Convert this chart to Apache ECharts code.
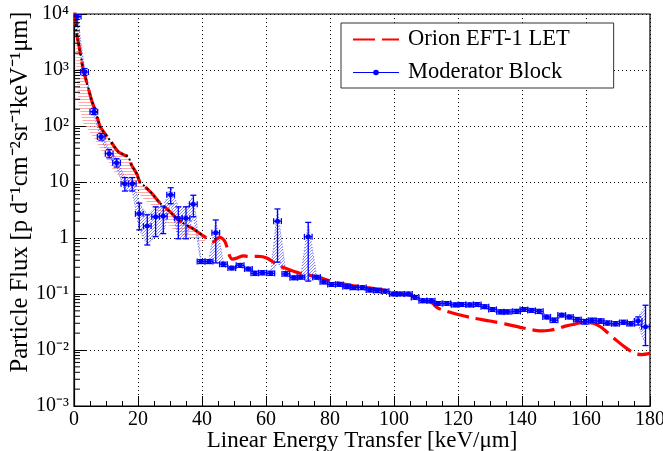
<!DOCTYPE html>
<html>
<head>
<meta charset="utf-8">
<script src="https://cdn.jsdelivr.net/npm/echarts@6/dist/echarts.min.js"></script>
<style>
  html, body { margin: 0; padding: 0; background: #fff; }
  #chart { width: 663px; height: 451px; }
</style>
</head>
<body>
<div id="chart"></div>
<script>
// Orion EFT-1 LET spectrum (red dashed)
const redX = [0, 0.4, 0.8, 1.5, 2.2, 2.9, 4, 5.5, 6.8, 8.1, 9.5, 11.2, 13.8, 15.9, 17, 18, 19.6, 20.6, 21.7, 24.3, 26.9, 30, 32.6, 35.2, 37.8, 40.4,
  42, 43.5, 44.6, 45.6, 47.2, 48.5, 49.5, 51, 52.9, 54.5, 57.6, 60.2, 63.3, 65.9, 70.6, 75.8, 81, 86.2, 91.5, 96.7, 101.3, 104.5, 106.6, 109,
  112, 113.5, 116, 120, 125, 130, 135, 139.4, 143, 145.6, 148.7, 151, 153.9, 156.5, 159.2, 162.3, 164.5, 166.5, 169.6, 172.7, 175.3, 177.5, 180];
const redY = [15000, 9000, 4600, 2800, 1700, 1000, 600, 290, 180, 100, 75, 56, 35, 30, 28, 20, 14, 10, 8.8, 6.3, 4.2, 2.95, 2.1, 1.7, 1.39, 1.09,
  0.95, 0.86, 0.95, 1.03, 0.86, 0.5, 0.42, 0.44, 0.48, 0.47, 0.47, 0.44, 0.34, 0.29, 0.234, 0.204, 0.166, 0.145, 0.13, 0.118, 0.1, 0.097, 0.088, 0.078,
  0.069, 0.057, 0.05, 0.043, 0.037, 0.033, 0.029, 0.0254, 0.023, 0.022, 0.0225, 0.024, 0.027, 0.029, 0.031, 0.03, 0.026, 0.021, 0.0147, 0.0107, 0.0087, 0.0083, 0.0087];
// black dotted curve drawn over the red one at low LET
const blackMaxX = 40.4;

// pink hatched band under the red curve
const redBandX  = [0.3, 0.6, 0.8, 1.4, 2.9, 6, 9.2, 12.3, 15, 17, 19, 21, 23, 25, 27, 29, 31, 33, 35, 37, 39, 41];
const redBandHi = [10000, 6000, 4600, 3000, 1000, 230, 80, 45, 31, 28, 16, 9.5, 7.3, 5.5, 4.1, 3.3, 2.6, 2.05, 1.75, 1.5, 1.2, 1.05];
const redBandLo = [8000, 3000, 760, 255, 110, 64, 32, 16, 11, 9, 7, 5.5, 4.3, 3.6, 2.6, 1.9, 1.4, 1.2, 1.05, 0.95, 0.9, 0.85];

// Moderator Block measurement (blue points with errors)
const blueX = [1.0, 3.3, 6.2, 8.5, 11.0, 13.3, 15.9, 18.2, 20.4, 22.9, 25.5, 27.9, 30.2, 32.6, 35.0, 37.3, 39.7, 42.2, 44.3, 46.7,
  49.3, 51.9, 54.5, 56.5, 58.9, 61.5, 63.6, 66.2, 68.7, 70.9, 73.2, 75.8, 78.1, 80.5, 82.9, 85.2, 87.5, 90.1, 92.5, 94.8,
  97.2, 99.8, 101.9, 104.5, 106.6, 109.0, 111.6, 113.8, 116.5, 119.1, 121.2, 123.7, 126.0, 128.4, 130.8, 133.3, 135.4, 138.3, 140.6, 143.0,
  145.4, 147.7, 150.0, 152.4, 154.8, 157.3, 159.7, 161.9, 164.4, 166.7, 169.2, 171.7, 174.0, 176.3, 178.6];
const blueY = [9000, 920, 180, 64, 32, 22, 9.3, 9.3, 2.7, 1.64, 2.4, 2.45, 5.9, 2.25, 2.25, 4.0, 0.38, 0.38, 1.24, 0.34,
  0.29, 0.325, 0.28, 0.234, 0.24, 0.234, 2.0, 0.228, 0.195, 0.2, 1.05, 0.2, 0.164, 0.148, 0.148, 0.135, 0.13, 0.13, 0.118, 0.115,
  0.112, 0.1, 0.1, 0.1, 0.087, 0.076, 0.076, 0.068, 0.068, 0.064, 0.065, 0.064, 0.065, 0.059, 0.053, 0.048, 0.048, 0.049, 0.053, 0.051,
  0.049, 0.039, 0.034, 0.042, 0.039, 0.035, 0.032, 0.034, 0.033, 0.030, 0.0295, 0.031, 0.0295, 0.033, 0.026];
const blueLo = [6000, 800, 160, 56, 27, 18.5, 6.9, 6.9, 1.4, 0.75, 1.06, 1.2, 4.1, 0.97, 0.97, 2.4, 0.35, 0.35, 0.36, 0.31,
  0.27, 0.30, 0.26, 0.215, 0.22, 0.215, 0.37, 0.21, 0.18, 0.185, 0.17, 0.185, 0.152, 0.137, 0.137, 0.125, 0.12, 0.12, 0.109, 0.106,
  0.104, 0.093, 0.093, 0.093, 0.081, 0.07, 0.07, 0.063, 0.063, 0.059, 0.06, 0.059, 0.06, 0.055, 0.049, 0.044, 0.044, 0.045, 0.049, 0.047,
  0.045, 0.036, 0.031, 0.039, 0.036, 0.032, 0.029, 0.031, 0.03, 0.028, 0.027, 0.029, 0.027, 0.028, 0.012];
const blueHi = [10000, 1060, 205, 73, 38, 26, 12, 12, 4.2, 2.6, 3.6, 3.7, 7.9, 3.6, 3.6, 5.8, 0.41, 0.41, 2.1, 0.37,
  0.31, 0.35, 0.30, 0.255, 0.26, 0.255, 3.3, 0.25, 0.21, 0.215, 1.9, 0.215, 0.177, 0.16, 0.16, 0.146, 0.14, 0.14, 0.127, 0.124,
  0.121, 0.108, 0.108, 0.108, 0.094, 0.082, 0.082, 0.073, 0.073, 0.069, 0.07, 0.069, 0.07, 0.064, 0.057, 0.052, 0.052, 0.053, 0.057, 0.055,
  0.053, 0.042, 0.037, 0.045, 0.042, 0.038, 0.035, 0.037, 0.036, 0.033, 0.032, 0.034, 0.032, 0.039, 0.063];
const blueBinHalf = 1.2;

const yTickText = { '-3': '10⁻³', '-2': '10⁻²', '-1': '10⁻¹', '0': '1', '1': '10', '2': '10²', '3': '10³', '4': '10⁴' };

const FONT = 'Liberation Serif';

// hatch patterns like the ROOT fill styles
function makePattern(w, h, draw) {
  const c = document.createElement('canvas');
  c.width = w; c.height = h;
  draw(c.getContext('2d'));
  return { image: c, repeat: 'repeat' };
}
const redHatch = makePattern(4, 3, (ctx) => {
  ctx.fillStyle = 'rgba(255,110,110,0.6)';
  ctx.fillRect(0, 0, 4, 1);
});
const blueHatch = makePattern(3, 3, (ctx) => {
  ctx.fillStyle = 'rgba(60,60,255,0.6)';
  ctx.fillRect(0, 0, 1, 1);
  ctx.fillRect(2, 1, 1, 1);
  ctx.fillRect(1, 2, 1, 1);
});

const myChart = echarts.init(document.getElementById('chart'));

function bandItem(xs, lo, hi, fill, edge) {
  return function (params, api) {
    const upper = xs.map((x, i) => api.coord([x, hi[i]]));
    const lower = xs.map((x, i) => api.coord([x, lo[i]])).reverse();
    const children = [{ type: 'polygon', shape: { points: upper.concat(lower) }, style: { fill: fill } }];
    if (edge) {
      children.push({ type: 'polyline', shape: { points: upper }, style: { fill: null, stroke: edge, lineWidth: 1, lineDash: [1, 2] } });
      children.push({ type: 'polyline', shape: { points: lower }, style: { fill: null, stroke: edge, lineWidth: 1, lineDash: [1, 2] } });
    }
    return {
      type: 'group',
      clipPath: { type: 'rect', shape: { x: params.coordSys.x, y: params.coordSys.y, width: params.coordSys.width, height: params.coordSys.height } },
      children: children
    };
  };
}

// log minor ticks (2..9 per decade) on the y axis
const yMinor = [];
for (let k = -3; k < 4; k++) for (let m = 2; m < 10; m++) yMinor.push(m * Math.pow(10, k));

const option = {
  animation: false,
  backgroundColor: '#fff',
  grid: { left: 74, right: 13, top: 14, bottom: 45, outerBoundsMode: 'none', containLabel: false,
    show: true, borderColor: '#000', borderWidth: 1.2 },
  legend: {
    left: 341, top: 23,
    orient: 'vertical',
    padding: [5, 44, 4, 11],
    itemWidth: 46, itemHeight: 7, itemGap: 10,
    backgroundColor: '#fff', borderColor: '#333', borderWidth: 1,
    textStyle: { fontFamily: FONT, fontSize: 22.5, color: '#000', padding: [0, 0, 0, 4] },
    data: [
      { name: 'Orion EFT-1 LET', itemStyle: { opacity: 0 } },
      { name: 'Moderator Block', lineStyle: { color: '#0000ff', width: 1, opacity: 1, type: 'solid' }, itemStyle: { color: '#0000ff' } }
    ]
  },
  xAxis: {
    type: 'value', min: 0, max: 180, interval: 20,
    name: 'Linear Energy Transfer [keV/μm]', nameLocation: 'middle', nameGap: 23, nameMoveOverlap: false,
    nameTextStyle: { fontFamily: FONT, fontSize: 23, color: '#000' },
    axisLine: { lineStyle: { color: '#000', width: 1.2 } },
    axisTick: { inside: true, length: 10, lineStyle: { color: '#000' } },
    minorTick: { show: true, splitNumber: 4, length: 5, lineStyle: { color: '#000' } },
    splitLine: { show: true, lineStyle: { color: '#000', type: [1, 3], width: 1 } },
    axisLabel: { fontFamily: FONT, fontSize: 20, color: '#000', margin: 4 }
  },
  yAxis: {
    type: 'log', logBase: 10, min: 0.001, max: 10000, splitNumber: 7,
    name: 'Particle Flux [p d⁻¹cm⁻²sr⁻¹keV⁻¹μm]', nameLocation: 'middle', nameGap: 41, nameMoveOverlap: false,
    nameTextStyle: { fontFamily: FONT, fontSize: 24.5, color: '#000', padding: [0, 0, 0, 36] },
    axisLine: { lineStyle: { color: '#000', width: 1.2 } },
    axisTick: { inside: true, length: 12, lineStyle: { color: '#000' } },
    splitLine: { show: true, lineStyle: { color: '#000', type: [1, 3], width: 1 } },
    axisLabel: {
      fontFamily: FONT, fontSize: 20, color: '#000', margin: 5,
      formatter: (v) => yTickText[String(Math.round(Math.log10(v)))] || ''
    }
  },
  series: [
    {
      name: 'yMinorTicks', type: 'custom', silent: true, z: 6,
      data: [[90, 1]],
      renderItem: (params, api) => ({
        type: 'group',
        children: yMinor.map((v) => {
          const p = api.coord([0, v]);
          return { type: 'line', shape: { x1: p[0], y1: p[1], x2: p[0] + 6, y2: p[1] }, style: { stroke: '#000', lineWidth: 1 } };
        })
      })
    },
    {
      name: 'redBand', type: 'custom', silent: true, z: 1,
      data: [[90, 1]],
      renderItem: bandItem(redBandX, redBandLo, redBandHi, redHatch, null)
    },
    {
      name: 'blueBand', type: 'custom', silent: true, z: 1,
      data: [[90, 1]],
      renderItem: bandItem(blueX, blueLo, blueHi, blueHatch, 'rgba(80,80,255,0.8)')
    },
    {
      name: 'Orion EFT-1 LET', type: 'line', z: 3,
      symbol: 'none', smooth: 0.3,
      lineStyle: { color: '#ff0000', width: 3.2, type: [22, 7] },
      itemStyle: { color: '#ff0000' },
      data: redX.map((x, i) => [x, redY[i]])
    },
    {
      name: 'blackDotted', type: 'line', z: 4, silent: true,
      symbol: 'none', smooth: 0.3,
      lineStyle: { color: '#000', width: 2, type: [2, 3] },
      data: redX.filter((x) => x <= blackMaxX).map((x, i) => [x, redY[i]])
    },
    {
      name: 'blueErrors', type: 'custom', z: 5, silent: true,
      data: blueX.map((x, i) => [x, blueY[i], blueLo[i], blueHi[i]]),
      renderItem: (params, api) => {
        const x = api.value(0), y = api.value(1);
        const c = api.coord([x, y]);
        const lo = api.coord([x, api.value(2)]);
        const hi = api.coord([x, api.value(3)]);
        const l = api.coord([x - blueBinHalf, y]);
        const r = api.coord([x + blueBinHalf, y]);
        const st = { stroke: '#0000ff', lineWidth: 1.3 };
        return {
          type: 'group',
          clipPath: { type: 'rect', shape: { x: params.coordSys.x, y: params.coordSys.y, width: params.coordSys.width, height: params.coordSys.height } },
          children: [
            { type: 'line', shape: { x1: c[0], y1: lo[1], x2: c[0], y2: hi[1] }, style: st },
            { type: 'line', shape: { x1: c[0] - 3, y1: lo[1], x2: c[0] + 3, y2: lo[1] }, style: st },
            { type: 'line', shape: { x1: c[0] - 3, y1: hi[1], x2: c[0] + 3, y2: hi[1] }, style: st },
            { type: 'line', shape: { x1: l[0], y1: c[1], x2: r[0], y2: c[1] }, style: st },
            { type: 'line', shape: { x1: l[0], y1: c[1] - 3, x2: l[0], y2: c[1] + 3 }, style: st },
            { type: 'line', shape: { x1: r[0], y1: c[1] - 3, x2: r[0], y2: c[1] + 3 }, style: st }
          ]
        };
      }
    },
    {
      name: 'Moderator Block', type: 'line', z: 6,
      symbol: 'circle', symbolSize: 5, showSymbol: true,
      lineStyle: { color: '#0000ff', width: 0 },
      itemStyle: { color: '#0000ff' },
      data: blueX.map((x, i) => [x, blueY[i]])
    }
  ]
};

option && myChart.setOption(option);
</script>
</body>
</html>
